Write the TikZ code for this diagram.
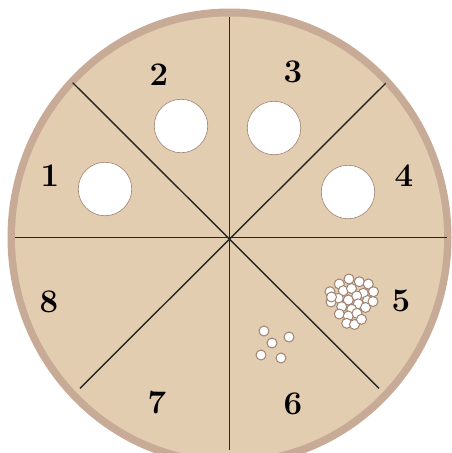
\documentclass[tikz,border=0pt]{standalone}
\begin{document}
\begin{tikzpicture}[x=1pt,y=-1pt,
  hole/.style={circle,draw=holeline,fill=white,line width=0.6pt,inner sep=0pt,minimum size=53.5pt},
  seed/.style={circle,draw=holeline,fill=white,line width=1pt,inner sep=0pt,minimum size=10pt},
  num/.style={inner sep=0pt,font=\fontsize{33}{33}\selectfont\bfseries},
  spoke/.style={draw=black!85,line width=1.4pt}]
\definecolor{ringcol}{RGB}{200,171,151}
\definecolor{platecol}{RGB}{227,205,177}
\definecolor{holeline}{RGB}{160,130,114}
\useasboundingbox (0,0) rectangle (452,453);
\clip (0,0) rectangle (452,453);
\fill[white] (0,0) rectangle (452,453);
\coordinate (c) at (229.5,237.5);
\fill[ringcol] (c) ellipse [x radius=222, y radius=229];
\fill[platecol] (c) ellipse [x radius=214.5, y radius=221];
% spokes
\coordinate (eN) at (229.5,17);
\coordinate (eS) at (229.5,450);
\coordinate (eW) at (15,237.5);
\coordinate (eE) at (447,237.5);
\coordinate (eNW) at (72.7,82.7);
\coordinate (eNE) at (385.7,83.3);
\coordinate (eSE) at (379,388.3);
\coordinate (eSW) at (80,388.3);
\draw[spoke] (eN) -- (eS);
\draw[spoke] (eW) -- (eE);
\draw[spoke] (eNW) -- (eSE);
\draw[spoke] (eNE) -- (eSW);
% holes
\node[hole] (h1) at (105,189) {};
\node[hole] (h2) at (181,126) {};
\node[hole] (h3) at (274,128) {};
\node[hole] (h4) at (348,192) {};
% seeds in 6
\node[seed] (s61) at (264,331) {};
\node[seed] (s62) at (289,337) {};
\node[seed] (s63) at (272,343) {};
\node[seed] (s64) at (261,355) {};
\node[seed] (s65) at (281,358) {};
% cluster in 5
\foreach \x/\y [count=\i] in {349/279, 359.3/281.7, 368.3/284, 339.3/284, 330/291.7, 343.3/290.7, 351.5/288.5, 363.3/293.3, 373.5/291.7, 356.7/296, 338.3/298.3, 348.3/300, 367.5/300.5, 331/302, 373/301.5, 341.7/306.7, 358.3/303.8, 365.5/307.5, 351.7/309.3, 339.3/314, 348.3/316, 357/313.3, 346.7/323.3, 354.5/324.5, 361.5/319.3, 331.5/297}
  \node[seed] (s5\i) at (\x,\y) {};
% numbers
\node[num] (n1) at (50,176) {1};
\node[num] (n2) at (159,75) {2};
\node[num] (n3) at (293,72) {3};
\node[num] (n4) at (404,176) {4};
\node[num] (n5) at (401,301) {5};
\node[num] (n6) at (293,404) {6};
\node[num] (n7) at (157,403) {7};
\node[num] (n8) at (49,302) {8};
\end{tikzpicture}
\end{document}
